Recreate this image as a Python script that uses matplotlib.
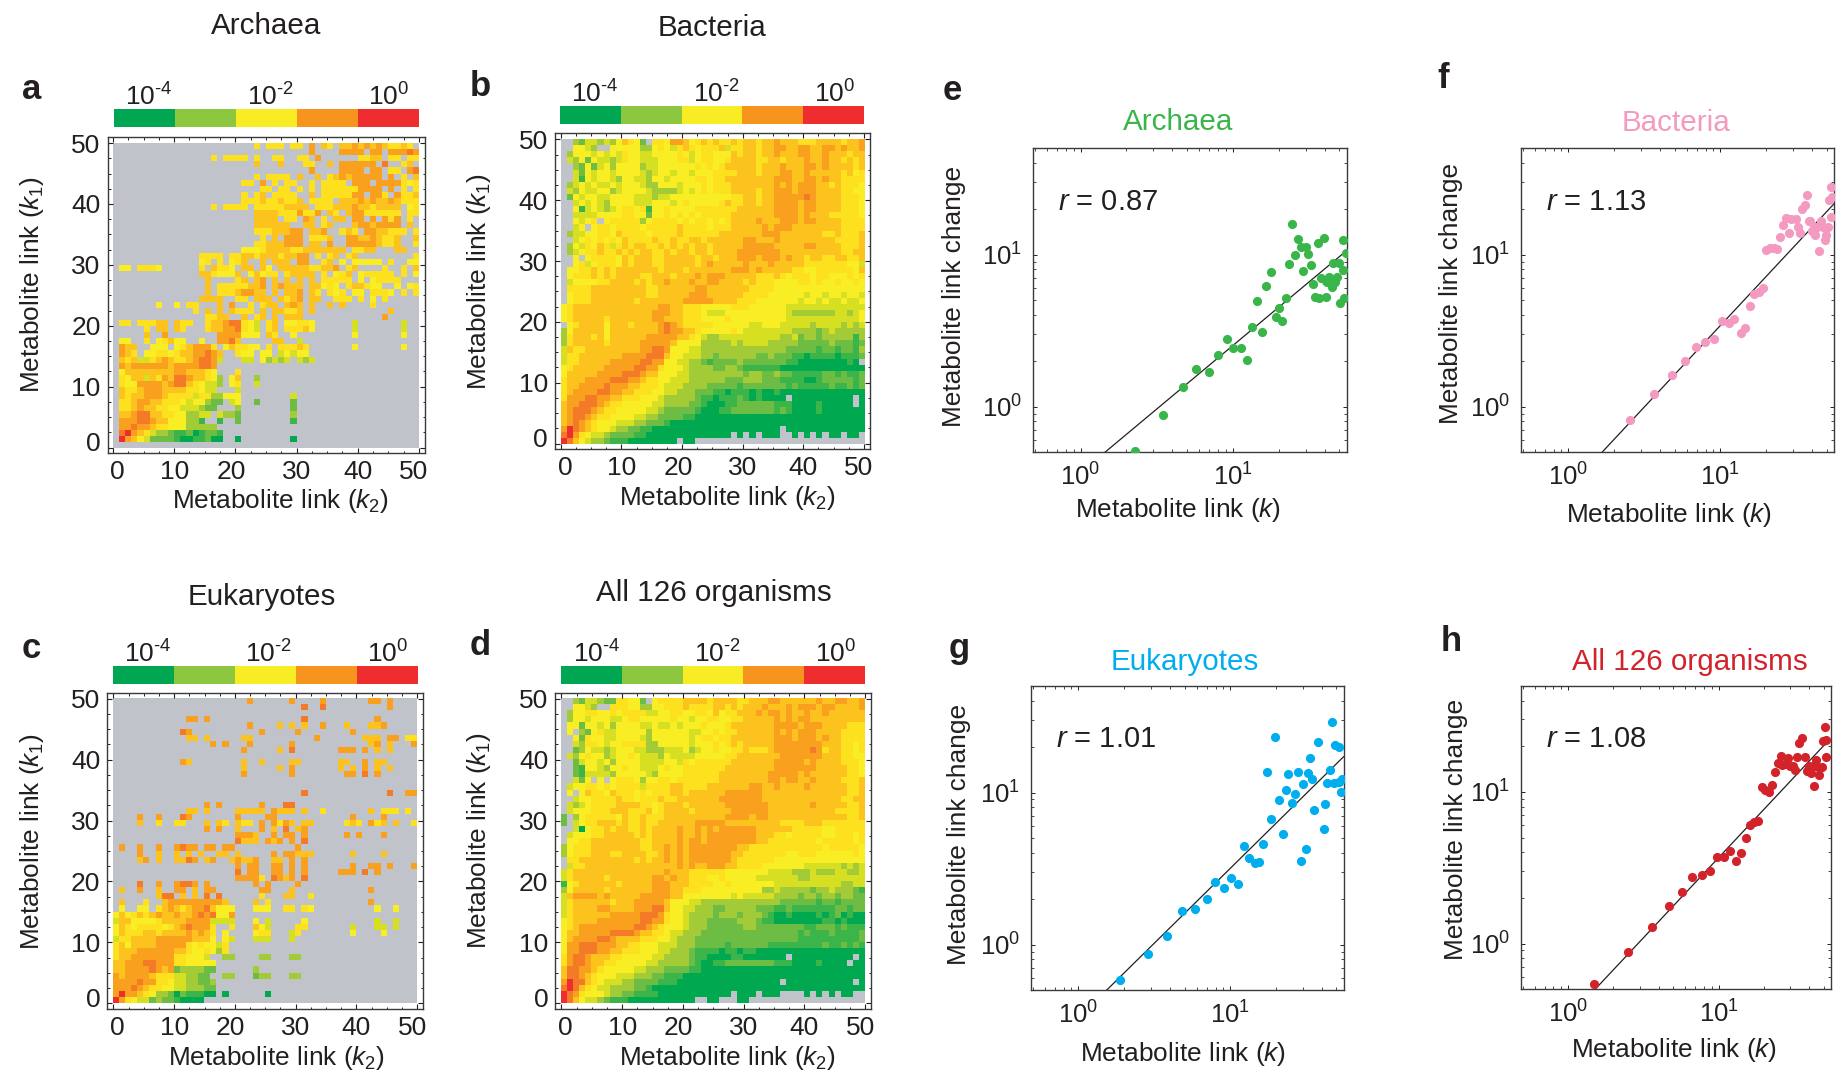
import matplotlib
matplotlib.use('Agg')
import matplotlib.pyplot as plt
import numpy as np
from matplotlib.colors import ListedColormap
from matplotlib.transforms import ScaledTranslation

plt.rcParams['font.family'] = ['Liberation Sans', 'DejaVu Sans']
plt.rcParams['mathtext.fontset'] = 'custom'
plt.rcParams['mathtext.rm'] = 'Liberation Sans'
plt.rcParams['mathtext.it'] = 'Liberation Sans:italic'
plt.rcParams['mathtext.default'] = 'regular'

W, H = 1838, 1074

# probability level of each cell, 0 = green ... a = red, '.' = no data
# rows run from k1 = 49 at the top down to k1 = 0, columns from k2 = 0
archaea_rows = [
    ".......... .......... ...6.666.6 6.8.76.778 7878766 76",
    ".......... .......... .......... ..8....888 8.88.88898",
    ".......... ......6.66 66.6..66.. 66.8...... 6677.66.66 ",
    ".......... .......... ...7...7.. .66..7.888 888.9..67",
    ".......... .......... .......... ..8....888 8.88.66.89",
    ".......... .......... ...6.6666. 7..7.67878 8888.8.6.7",
    ".......... .......... .66.8.6.66 ..6.6666.8 88.88886566",
    ".......... .......... ....66.66. 6.6.666666 8888.8.6.6",
    ".......... .......... .6.67.6666 ..7.666668 8.886.86676",
    ".......... .......... .666766766 7.6666.777 8787787666",
    ".......... ......6.66 66.6666677 77.6667778 7767777.56",
    ".......... .......... ...7777666 8668.76.78 8666666.66",
    ".......... .......... ...7777.66 .87.6.77.8 8.8.868.6.",
    ".......... .......... ...777777. .77.67...7 8878888.7.",
    ".......... .......... ...6667778 8.778..676 .8877666.6",
    ".......... .......... ....6.7.88 8.6667..88 7787667..7",
    ".......... .......... ...6677788 8.77.8..88 8887667..6",
    ".......... .......... .5556777 7667777777 .6677...77",
    ".......... ....6666.6 6776777677 88.6.67.67 .........6",
    ".......... ....56.6.5 67..7.777. 88..67.5.5 5555.6..55",
    ".55.6665.. ....6.7665 .77.75.777 7766778.67 ....6..6.7",
    ".......... ....776555 7.57566.67 777.6.567. 566666.6.5",
    ".......... .....7.... 67.78.7.7. 7.7.66666. 5.56666...",
    ".......... .....7.666 66778.7877 7.77565.67 7655..5.56",
    ".......... .....7.666 78877.7.77 8.76.656.5 5.6665.6.6",
    ".......... ....7777.. 66.777.767 8.77..666. 6.5.6.....",
    ".......5.. 5.66...7.8 ..6.677.78 7.7..7.7.. ..6.....",
    ".......... ...6.7.7.7 666.7.7766 7.7....... .....7.",
    ".......... .....6677. .7.67.7.77 7......... ....8",
    ".66.66677. 766..67789 9654.67.55 665......4 .......4",
    ".....6.77. 76...67788 9654.67.66 675......4 .......4",
    ".....7..8. .......888 8555.76..5 .........5 .......5",
    ".55..6.567 55..5..889 7.....77.. 4",
    ".877..555. 5678886.57 6655.6.666 76.......5 .......5",
    ".876.55665 67788987.. 655.55.454 55",
    ".767446787 66789984.. .44.53434. 434",
    ".878888887 8888998",
    ".577777777 8877765... 6",
    ".657747687 99877653.5 7..3",
    ".655888878 997654 43.5 6..4",
    ".766788877 7766544... 4",
    ".767788876 6664663355 5........4",
    ".667887766 65455322.4 5..2.....2",
    ".667877665 5444322... 3........2",
    ".778997766 55334 4.433 2........3",
    ".888998775 55331..1.. 2........1",
    ".889887665 5533333...",
    ".9a8764332 11201221..",
    ".a87542222 10011200.. 0........0",
    "",
]

bacteria_rows = [
    "..32443435 7652.66588 7567676676 7767787776 6677776778",
    "..5543..55 5553356546 7656667466 7767788778 8778878778",
    ".355545454 6554455556 5456655576 7767787778 8778777677",
    ".435254434 6554445556 6456655677 7766776777 8778776767",
    "..32524535 5553445555 5565656777 7767778777 8878777767",
    "..42545545 5554345545 5455566667 7767778877 8777776756",
    "..41545543 5544355455 5566566777 7777788877 8878776666",
    ".345454454 5554335554 5556566677 7777787878 8877676665",
    ".435445534 5555433334 5456566677 7767788878 8877776655",
    ".254554455 5544434455 5555555566 7767788888 9877776665",
    "..45454355 5544455545 6555556766 7767788887 8877776665",
    "..51454345 6656155655 5566666667 7777788887 8877776665",
    "..44445555 6655255656 5656666677 7777788887 8777666665",
    "..5456.566 6663566665 6566565677 7787778887 8877776666",
    "..45.56656 6665666667 6666566677 7778788877 7777776666",
    ".344556657 6666566667 6666667777 7778887777 7776676667",
    "..45656565 7666676676 6776777777 8877787777 7777766667",
    ".354657646 7677667676 7677677777 8888877777 8877776667",
    ".345667667 6767766767 7677677778 8888887777 7777776677",
    "..5.566665 7677766777 7767767778 8878887877 6776677667",
    "..56456665 7677766777 7767877777 8777877777 6666666554",
    ".556676767 7777776777 6777777788 8787777766 5566666657",
    ".566676767 7776677767 7787888777 7766676566 6566555656",
    ".455556677 7767677877 7877887777 6766655556 6565565565",
    ".666677777 7777667777 7788777777 7666655555 5555555555",
    ".566677777 7777667777 7888777777 6666555555 4554554554",
    ".566677777 7767777777 8888877776 6655555554 5545445445",
    "5677777777 7777778877 6665555566 6555555444 4444444444",
    "5677777777 7777788877 6665444555 5555555433 3333344345",
    "5677777677 7777788777 6665555655 5555555444 4444444445",
    ".567777577 7677778987 6666655555 5445554444 4344443434",
    "3577777577 7777778988 7765555565 4444444433 3323433333",
    "3677767577 7777888887 7654334444 4444443342 3323333313",
    "3677777677 7778888875 5553333343 4444333332 2222322212",
    "4766777777 7778899855 5443333333 3333333222 2212212213",
    "4667777777 8888999755 4443323333 3322322211 0111101112",
    "4667777788 8889988554 4332122223 2222222110 000000010.",
    "5677777888 8899886555 4333322332 1111110000 0000000000",
    "5777778888 9998775554 4333333333 2332232211 1112212112",
    "6777888899 9887665544 4333333222 3332221111 0012222212",
    "6778888988 8776665444 3333222221 2222222121 1111211212",
    "6788889988 7766655443 3322211011 1010010000 0000000000",
    "6888998877 6665554333 3321101112 1010000.00 00000000.0",
    "7889998766 5555544333 3221000112 2222211100 00100000.0",
    "7899987665 5555443222 2210001122 2222212100 0010000000",
    "7899876655 5544332222 1100000000 0000000000 0000000000",
    "7898765554 4433222100 0000000000 0000000000 0000000000",
    "8a98765543 3221100000 0000000000 000000.000 0000000000",
    "9a86544322 2211000000 00000000.0 .0.000..0. 0.0.00.00.",
    "a975433211 100000000. 00........ .......... ..........",
]

eukaryote_rows = [
    ".......... .......... ..8......8 ....8..... ..88.8",
    ".......... .......... .......... .9..9..... .....8",
    "",
    ".......... ..88.8.... .......... .9........ ...8",
    ".......... .......... ..8....7.7 .7..8...7. ..778.....",
    ".......... .98....... ....8..... 8........8",
    ".......... ..77.7.... .77....... ...8...... .777.88.66 ..7",
    ".......... ......8.8. ..8......8 .......... ..78.7...8",
    ".......... .......... .8.....7.9 .......888 .8.7.7",
    "",
    ".......... .87....... .7..7....7 7......77. .8.77",
    ".......... .......... .7.....7.8 .......7.7 .8.7.7",
    ".......... .......... .8.......8 ........88 .9.8",
    "",
    "",
    ".......... .......... .......... .9........ .....9..88",
    "",
    ".......... .....8.8.. ....8...99",
    ".......... ..77.7.... 77777.877 7.7..6.... ...7.666.6",
    "....8..8.. .98....... 8....88... .........8 ....8",
    "....7..6.. 66...7.76. 766.8.8687 .77.....67 6.867.7..6",
    ".......... .....8.8.. 7...8.7.9. 78........",
    ".......... .......... 8887..8.88 .8......8. 8...8",
    ".......... .......... 9777.878.8 .9",
    ".8..8..8.. 8988.88.88 .......... 8",
    "....8..7.. 7.7.7..77. 7.....8.88 777......7 ....7",
    "....78.7.. 7798.78..7 8778..77.8 .8",
    ".......... .......... 8.88..88.8 .8.......8 ..88.8...8",
    ".......... .......... 9.88..88.8 .8.....888 .9.8",
    ".......... .......... 88886.9878 .9",
    "....9..8.. 8998.8.... ...8.8.... 8",
    ".7..8..7.. 88.7.88... ....88...7 .......... ..8",
    ".......799 .7.7.9.9.. ....6...77 ..6",
    ".7...6..78 888888887. ...7.6.... .......... ..8",
    ".5..55.678 7678897555 ...555..66 .65....... ...5..5",
    "5756767877 8778989558",
    "4775555677 7788884444 ...5.4.... .5........ ...4..4",
    "5765666656 7898886..6 ...754.... 66.......4 ...44.4",
    "5766677677 7787876.5. ...566...4 6........5 ....5",
    "4667777888 8887775.54 ...444...4",
    "6757777888 886565546.",
    "6777888888 776556536.",
    "6778888888 665554..33 ....33...3 3",
    "7788899888 6655555...",
    "7788889878 2333322... ...3",
    "8788887666 443322..33 ...233...3 3",
    "8888988665 4433223...",
    "8889876655 4433322...",
    "8a88765332 0211100.0. .....0",
    "a865442322 10000.....",
]

all_rows = [
    "..32443226 6552.56666 7777677776 6777887777 7787788778",
    "..5543..66 6553355666 7666677676 7778777878 8878877778",
    ".355665565 6666445566 5566575667 7787887877 8778777777",
    ".355455544 5665555565 5455665566 7777787878 8777777777",
    ".552554535 5554454454 5556555677 7777788887 8887777666",
    ".5.3256445 5555355555 5445565667 7777787878 8877776666",
    "..52655445 5554355555 5456656677 7777788878 8878776666",
    "..43665455 6666335555 5455565676 7777788888 8887776656",
    "..23544345 5544333444 5345565566 7666788888 8986776656",
    ".435655345 5654443544 4455555667 7777778888 8887776655",
    "..24554535 5554444554 6566666677 7777788888 7877776665",
    "..21554355 6554445655 6666666777 7777788888 8877777665",
    "..21444435 5555435555 6666667777 7777888887 8777777665",
    "..425.5.56 6653556656 6666667777 7777887887 7877776667",
    ".455665656 6664666677 6666777777 7887787777 8777777667",
    ".5.5766576 6656566677 6777777888 8887777777 7777777667",
    "..45566667 6656667667 7777778888 8887777777 7777776677",
    ".434566667 7776656777 6777777888 8888777777 7877777667",
    ".455566677 7666756777 7677777788 8888777777 7777766667",
    "2.35666665 7667666777 7777777888 8788777777 7777777667",
    "2.45667776 7667667777 7788888777 7777776666 7776666666",
    "..40566767 7667677778 7787878888 8877777766 6665566666",
    ".455566777 7767677778 7787888888 8877766566 6665566656",
    ".556677777 7776677778 7887888888 8877666666 6656666656",
    "3566677777 7776677878 7888888887 7666666666 6665666665",
    "3566677766 7777667878 7888888877 6666666556 6655555565",
    ".667777777 7767677878 7888888876 6666655555 5555555555",
    ".466777777 7777777778 7877888776 6665555555 4444443434",
    "4677777777 7777777877 7666666555 5555444433 3433344334",
    "4677777677 7777788787 7666556555 5544444443 3444444444",
    "1567777776 7777788877 7666655655 5555544444 4444443344",
    "3577777677 7777788877 6665555555 5553343333 3233433321",
    "4788887877 7778888877 5555555545 4444433332 3323323322",
    "4677777767 7788888755 5443333333 3333332222 2212212222",
    "4677778877 7788899755 4433322333 3322211211 1111122122",
    "4677777788 8889998655 4333323332 3332100100 0010120100",
    "5677778888 8889988655 4333222223 3321100000 0001101000",
    "5678888888 8899876555 4333222222 3322222222 1122212111",
    "5778888899 9987766544 3332222222 2222222221 2111211112",
    "5788889987 7776665543 3322222222 2222222221 1111111112",
    "5889998887 7665554443 3322222122 2222111111 1112112121",
    "5889998877 6665554433 3211110110 1100000000 0000000000",
    "6899877766 5555544333 3211000011 0000000.00 00000000.0",
    "6899877665 5555443333 3210011222 2222211100 0010000.00",
    "7998876555 5544333222 2110000000 0000000000 0000000000",
    "7998765554 4433322111 0000000000 0000000000 0000000000",
    "8a99765444 3322221110 0000000000 000000.000 00000000.0",
    "9a97654433 3322100000 0000000000 0000000000 0000000000",
    "a986555433 2211110000 00000000.0 00.000.... 0.0.0.00..",
    "a975443211 1000000000 00..00...0 0.........",
]

level_colors = ['#00a94f', '#3bb54a', '#6dbd45', '#a3cb38', '#d7df23', '#f9ed24',
                '#fde01e', '#fcc21e', '#f9a01f', '#f47a28', '#ee2d2f']
bar_colors = ['#00a651', '#8dc63f', '#f8ec24', '#f7941e', '#ee2d2f']
nodata_color = '#c1c3ca'

# log10 of metabolite link and link change
archaea_k = [0.36, 0.54, 0.67, 0.76, 0.84, 0.90, 0.96, 1.00, 1.05, 1.09, 1.125, 1.19, 1.16, 1.22, 1.25, 1.28, 1.30, 1.32,
             1.35, 1.37, 1.386, 1.41, 1.43, 1.447, 1.46, 1.48, 1.49, 1.51, 1.524, 1.54, 1.557, 1.568, 1.58, 1.596, 1.61,
             1.61, 1.63, 1.63, 1.65, 1.66, 1.67, 1.684, 1.695, 1.70, 1.72, 1.724, 1.73, 1.74, 1.65, 1.62]
archaea_c = [-0.29, -0.057, 0.127, 0.25, 0.228, 0.342, 0.447, 0.384, 0.388, 0.305, 0.524, 0.491, 0.695, 0.796, 0.884, 0.592,
             0.649, 0.561, 0.717, 0.941, 1.20, 0.998, 1.105, 1.048, 0.89, 1.053, 1.004, 0.93, 0.807, 0.724, 1.075, 0.717,
             0.844, 1.11, 0.719, 0.829, 0.855, 0.822, 0.789, 0.943, 0.822, 0.855, 0.943, 0.68, 0.899, 1.10, 0.717, 1.009,
             0.816, 0.822]
archaea_fit = [[0.16, 1.75], [-0.30, 1.03]]

bacteria_k = [0.408, 0.566, 0.68, 0.765, 0.836, 0.901, 0.956, 1.007, 1.055, 1.092, 1.132, 1.162, 1.195, 1.224, 1.252, 1.281,
              1.30, 1.329, 1.351, 1.373, 1.393, 1.41, 1.428, 1.45, 1.467, 1.498, 1.511, 1.526, 1.539, 1.557, 1.57, 1.581,
              1.603, 1.614, 1.625, 1.636, 1.651, 1.662, 1.675, 1.686, 1.697, 1.706, 1.713, 1.724, 1.732, 1.73, 1.592, 1.618]
bacteria_c = [-0.086, 0.086, 0.208, 0.303, 0.393, 0.428, 0.445, 0.564, 0.548, 0.577, 0.487, 0.518, 0.662, 0.739, 0.757, 0.779,
              1.029, 1.042, 1.042, 1.039, 1.114, 1.197, 1.239, 1.145, 1.232, 1.232, 1.184, 1.145, 1.30, 1.329, 1.393, 1.224,
              1.158, 1.184, 1.129, 1.184, 1.026, 1.224, 1.184, 1.096, 1.129, 1.184, 1.36, 1.443, 1.377, 1.25, 1.224, 1.162]
bacteria_fit = [[0.221, 1.75], [-0.30, 1.338]]

eukaryote_k = [0.276, 0.456, 0.586, 0.684, 0.77, 0.844, 0.901, 0.961, 1.007, 1.048, 1.088, 1.125, 1.162, 1.191, 1.217, 1.243,
               1.27, 1.296, 1.322, 1.346, 1.368, 1.379, 1.408, 1.425, 1.447, 1.467, 1.48, 1.498, 1.511, 1.526, 1.539, 1.553,
               1.575, 1.616, 1.627, 1.636, 1.658, 1.669, 1.684, 1.693, 1.713, 1.713, 1.726, 1.735]
eukaryote_c = [-0.23, -0.059, 0.057, 0.221, 0.235, 0.303, 0.412, 0.373, 0.439, 0.401, 0.651, 0.568, 0.537, 0.542, 0.66, 1.134,
               0.829, 1.362, 0.954, 0.726, 1.015, 1.123, 0.932, 0.993, 1.138, 0.548, 1.059, 0.627, 1.129, 1.228, 1.092, 0.886,
               1.333, 0.759, 0.925, 1.064, 1.149, 1.465, 1.064, 1.314, 1.296, 1.072, 1.004, 1.09]
eukaryote_fit = [[0.182, 1.746], [-0.303, 1.235]]

all_k = [0.171, 0.399, 0.557, 0.669, 0.757, 0.827, 0.89, 0.945, 0.991, 1.039, 1.079, 1.116, 1.149, 1.182, 1.208, 1.237, 1.265,
         1.287, 1.311, 1.333, 1.355, 1.377, 1.393, 1.412, 1.423, 1.439, 1.461, 1.474, 1.493, 1.511, 1.524, 1.537, 1.553, 1.575,
         1.586, 1.603, 1.614, 1.625, 1.634, 1.645, 1.658, 1.667, 1.689, 1.695, 1.704, 1.711, 1.713, 1.599]
all_c = [-0.27, -0.055, 0.11, 0.246, 0.342, 0.436, 0.454, 0.476, 0.57, 0.568, 0.607, 0.544, 0.599, 0.695, 0.783, 0.798, 0.807,
         1.031, 1.013, 0.996, 1.048, 1.132, 1.189, 1.237, 1.18, 1.184, 1.224, 1.173, 1.173, 1.145, 1.232, 1.32, 1.355, 1.228,
         1.136, 1.173, 1.123, 1.173, 1.037, 1.211, 1.167, 1.11, 1.167, 1.338, 1.425, 1.342, 1.228, 1.151]
all_fit = [[0.182, 1.73], [-0.30, 1.338]]


def parse_rows(rows):
    assert len(rows) == 50, len(rows)
    grid = np.full((50, 50), np.nan)
    for n, row in enumerate(rows):
        row = row.replace(' ', '')[:50]
        for i, ch in enumerate(row):
            if ch != '.':
                grid[49 - n, i] = int(ch, 16)
    return grid


def add_axes_px(x0, y0, x1, y1):
    return fig.add_axes([x0 / W, 1 - y1 / H, (x1 - x0) / W, (y1 - y0) / H])


def ftext(x, y, s, **kw):
    # position given in 1568 wide preview pixels
    kw.setdefault('ha', 'center')
    kw.setdefault('va', 'center')
    kw.setdefault('color', '#231f20')
    if kw.get('rotation'):
        x += 2
    else:
        y += 2
    fig.text(x * 1.1722 / W, 1 - y * 1.1722 / H, s, **kw)


def heatmap(frame, rows, bar, bar_labels, shift=0.0):
    ax = add_axes_px(*frame)
    cmap = ListedColormap(level_colors)
    cmap.set_bad(nodata_color)
    ax.imshow(np.ma.masked_invalid(parse_rows(rows)), origin='lower', extent=(0, 50, 0, 50),
              cmap=cmap, vmin=-0.5, vmax=10.5, interpolation='nearest', aspect='auto')
    ax.set_xlim(-1 + shift, 51)
    ax.set_ylim(-0.9, 51)
    ax.set_xticks(range(0, 51, 10))
    ax.set_yticks(range(0, 51, 10))
    ax.set_xticks(np.arange(0, 51, 2.5), minor=True)
    ax.set_yticks(np.arange(0, 51, 2.5), minor=True)
    ax.tick_params(which='major', direction='in', length=3.5, width=0.8, top=True, right=True,
                   labelsize=19, pad=5, colors='#231f20')
    ax.tick_params(which='minor', direction='in', length=1.8, width=0.6, top=True, right=True)
    for s in ax.spines.values():
        s.set_linewidth(1.0)
        s.set_color('#3a3a3c')
    # a few labels sit off their ticks in the original
    for lab, dx in zip(ax.get_xticklabels(), [3, 0, -3, 0, 0, -3.5]):
        lab.set_transform(lab.get_transform() + ScaledTranslation(dx / 72, 0, fig.dpi_scale_trans))
    ylabs = ax.get_yticklabels()
    ylabs[0].set_transform(ylabs[0].get_transform() + ScaledTranslation(0, 4 / 72, fig.dpi_scale_trans))

    cax = add_axes_px(*bar)
    cax.imshow([list(range(5))], cmap=ListedColormap(bar_colors), aspect='auto', extent=(0, 5, 0, 1))
    cax.axis('off')
    for x, s in zip(bar_labels, [r'$10^{\text{-4}}$', r'$10^{\text{-2}}$', r'$10^{0}$']):
        fig.text(x / W, 1 - (bar[1] + 2) / H, s, ha='center', va='bottom', fontsize=19, color='#231f20')
    return ax


def scatter_panel(frame, k, c, fit, color, r_text):
    ax = add_axes_px(*frame)
    ax.set_xscale('log')
    ax.set_yscale('log')
    ax.plot(10 ** np.array(fit[0]), 10 ** np.array(fit[1]), color='#231f20', lw=0.9, zorder=2)
    ax.plot(10 ** np.array(k), 10 ** np.array(c), 'o', color=color, ms=6.6, mew=0, zorder=3)
    ax.set_xlim(10 ** -0.31, 10 ** 1.747)
    ax.set_ylim(10 ** -0.30, 10 ** 1.70)
    ax.set_xticks([1, 10])
    ax.set_yticks([1, 10])
    ax.tick_params(which='major', direction='in', length=3, width=0.7, top=True, right=True,
                   labelsize=18.5, pad=8, colors='#231f20')
    ax.tick_params(which='minor', direction='in', length=2, width=0.5, top=True, right=True)
    ax.set_xticklabels([r'$10^{0}$', r'$10^{1}$'])
    ax.set_yticklabels([r'$10^{0}$', r'$10^{1}$'])
    for s in ax.spines.values():
        s.set_linewidth(1.0)
        s.set_color('#3a3a3c')
    ax.text(0.08, 0.825, r_text, transform=ax.transAxes, fontsize=21, color='#231f20', va='center')
    return ax


fig = plt.figure(figsize=(W / 100, H / 100), dpi=100)

heatmap((107.5, 137, 425, 453), archaea_rows, (114, 109, 418, 127), [149, 270, 389], shift=0.1)
heatmap((554.7, 133.3, 870, 449), bacteria_rows, (560, 106, 864, 124), [595, 716, 835])
heatmap((107.3, 692.7, 423.3, 1008.7), eukaryote_rows, (112.7, 666, 417, 684), [148, 268, 388])
heatmap((555.3, 692.7, 871.3, 1008.7), all_rows, (561, 666, 865, 684), [597, 717, 836])

scatter_panel((1033.3, 148.3, 1346.7, 452.3), archaea_k, archaea_c, archaea_fit, '#39b54a', r'$\mathit{r}$ = 0.87')
scatter_panel((1521.3, 148.3, 1834, 452.3), bacteria_k, bacteria_c, bacteria_fit, '#f49ac1', r'$\mathit{r}$ = 1.13')
scatter_panel((1031.3, 686, 1343.7, 990.3), eukaryote_k, eukaryote_c, eukaryote_fit, '#00aeef', r'$\mathit{r}$ = 1.01')
scatter_panel((1521.3, 685.7, 1831, 989), all_k, all_c, all_fit, '#d2232a', r'$\mathit{r}$ = 1.08')

for x, y, s in [(227, 20, 'Archaea'), (607, 22, 'Bacteria'), (223, 507, 'Eukaryotes'), (609, 504, 'All 126 organisms')]:
    ftext(x, y, s, fontsize=21.3)
for x, y, s, col in [(1005, 102, 'Archaea', '#39b54a'), (1430, 103, 'Bacteria', '#f49ac1'),
                     (1011, 563, 'Eukaryotes', '#00aeef'), (1442, 563, 'All 126 organisms', '#d2232a')]:
    ftext(x, y, s, fontsize=21.3, color=col)

for x, y, s in [(27, 74, 'a'), (410, 72, 'b'), (27, 551, 'c'), (410, 549, 'd'),
                (812, 75, 'e'), (1231, 65, 'f'), (818, 551, 'g'), (1238, 545, 'h')]:
    ftext(x, y, s, fontsize=25, fontweight='bold')

k2_label = r'Metabolite link ($\mathit{k}_{\mathit{2}}$)'
k1_label = r'Metabolite link ($\mathit{k}_{\mathit{1}}$)'
for x, y in [(239, 425), (621, 423), (236, 901), (621, 901)]:
    ftext(x, y, k2_label, fontsize=18.9)
for x, y in [(25, 243), (407, 240), (25, 718), (407, 717)]:
    ftext(x, y, k1_label, fontsize=18.9, rotation=90)
for x, y in [(1005, 433), (1424, 437), (1009, 897), (1428, 894)]:
    ftext(x, y, r'Metabolite link ($\mathit{k}$)', fontsize=18.9)
for x, y in [(812, 253), (1236, 250), (816, 712), (1240, 708)]:
    ftext(x, y, 'Metabolite link change', fontsize=18.9, rotation=90)

fig.savefig('out.png', dpi=100)
